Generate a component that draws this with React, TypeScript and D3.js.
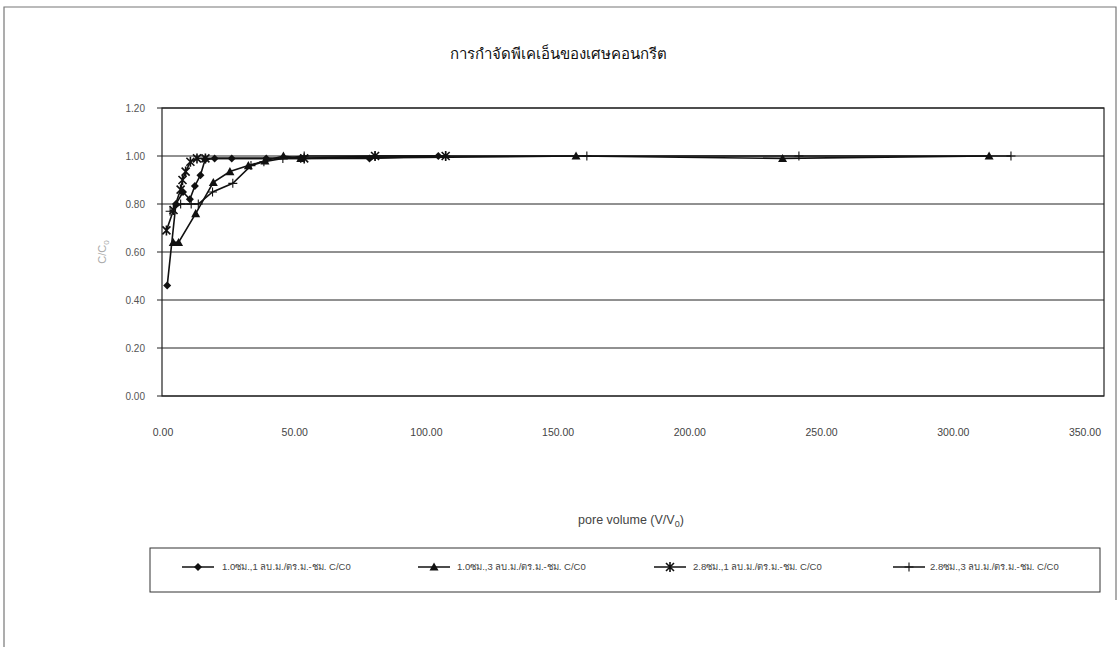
import React from "react";
import * as d3 from "d3";

// C/C0 breakthrough data, x = pore volume (V/V0)
const seriesNames = [
  "1.0ซม.,1 ลบ.ม./ตร.ม.-ชม. C/C0",
  "1.0ซม.,3 ลบ.ม./ตร.ม.-ชม. C/C0",
  "2.8ซม.,1 ลบ.ม./ตร.ม.-ชม. C/C0",
  "2.8ซม.,3 ลบ.ม./ตร.ม.-ชม. C/C0",
];
const markerKinds = ["diamond", "triangle", "star", "plus"];

const s1x = [1.6, 4.9, 7.6, 10.2, 12.1, 14.2, 16.0, 19.6, 26.1, 39.2, 52.3, 78.4, 104.5];
const s1y = [0.46, 0.80, 0.85, 0.82, 0.875, 0.92, 0.985, 0.99, 0.99, 0.99, 0.99, 0.99, 1.0];

const s2x = [3.9, 5.9, 12.4, 19.1, 25.4, 32.4, 38.7, 45.7, 52.3, 156.8, 235.2, 313.6];
const s2y = [0.64, 0.64, 0.76, 0.89, 0.935, 0.96, 0.98, 1.0, 0.99, 1.0, 0.99, 1.0];

const s3x = [1.3, 4.0, 6.7, 7.4, 8.6, 10.4, 12.9, 16.1, 53.6, 80.5, 107.3];
const s3y = [0.69, 0.775, 0.86, 0.90, 0.935, 0.976, 0.99, 0.99, 0.99, 1.0, 1.0];

const s4x = [2.7, 6.7, 10.7, 13.4, 18.8, 26.5, 33.4, 38.3, 45.5, 53.6, 80.5, 107.3, 160.9, 241.4, 321.9];
const s4y = [0.77, 0.80, 0.80, 0.80, 0.85, 0.886, 0.96, 0.976, 0.99, 1.0, 1.0, 1.0, 1.0, 1.0, 1.0];

const seriesX = [s1x, s2x, s3x, s4x];
const seriesY = [s1y, s2y, s3y, s4y];

const xTicks = [0, 50, 100, 150, 200, 250, 300, 350];
const yTicks = [0, 0.2, 0.4, 0.6, 0.8, 1.0, 1.2];

const title = "การกำจัดพีเคเอ็นของเศษคอนกรีต";

const W = 1119;
const H = 647;
const plot = { left: 162, right: 1104, top: 108, bottom: 396 };

const x = d3.scaleLinear().domain([0, 350]).range([163, 1085]);
const y = d3.scaleLinear().domain([0, 1.2]).range([plot.bottom, plot.top]);

const font = "'Liberation Sans', Arial, 'DejaVu Sans', sans-serif";

function Marker({ kind, cx, cy }: { kind: string; cx: number; cy: number }) {
  if (kind === "diamond") {
    const r = 4;
    return (
      <path
        d={`M${cx},${cy - r}L${cx + r},${cy}L${cx},${cy + r}L${cx - r},${cy}Z`}
        fill="#111"
      />
    );
  }
  if (kind === "triangle") {
    const r = 4.5;
    return (
      <path
        d={`M${cx},${cy - r}L${cx + r},${cy + r * 0.8}L${cx - r},${cy + r * 0.8}Z`}
        fill="#111"
      />
    );
  }
  if (kind === "star") {
    const r = 4;
    return (
      <path
        d={`M${cx - r},${cy - r}L${cx + r},${cy + r}M${cx + r},${cy - r}L${cx - r},${cy + r}M${cx},${cy - r - 1}L${cx},${cy + r + 1}`}
        stroke="#111"
        strokeWidth={1.6}
        fill="none"
      />
    );
  }
  const r = 4.5;
  return (
    <path
      d={`M${cx - r},${cy}L${cx + r},${cy}M${cx},${cy - r}L${cx},${cy + r}`}
      stroke="#111"
      strokeWidth={1.1}
      fill="none"
    />
  );
}

export default function App() {
  const line = d3
    .line<[number, number]>()
    .x((d) => x(d[0]))
    .y((d) => y(d[1]));

  const legendItems = [
    { lx: 182, tx: 222 },
    { lx: 418, tx: 457 },
    { lx: 654, tx: 693 },
    { lx: 893, tx: 930 },
  ];
  const legendY = 567;

  return (
    <svg
      width={W}
      height={H}
      style={{ position: "absolute", left: 0, top: 0, background: "#fff" }}
      fontFamily={font}
    >
      {/* outer frame */}
      <path d={`M4,${H}L4,7L1116,7L1116,600`} fill="none" stroke="#777" strokeWidth={1.2} />

      {/* title */}
      <text x={558} y={59} textAnchor="middle" fontSize={15} fill="#111">
        {title}
      </text>

      {/* gridlines */}
      {yTicks.map((t) => (
        <line
          key={`g${t}`}
          x1={plot.left - 5}
          x2={plot.right}
          y1={y(t)}
          y2={y(t)}
          stroke="#222"
          strokeWidth={1}
        />
      ))}
      {/* plot border */}
      <rect
        x={plot.left}
        y={plot.top}
        width={plot.right - plot.left}
        height={plot.bottom - plot.top}
        fill="none"
        stroke="#222"
        strokeWidth={1.2}
      />

      {/* y tick labels */}
      {yTicks.map((t) => (
        <text
          key={`yl${t}`}
          x={145}
          y={y(t) + 3.5}
          textAnchor="end"
          fontSize={10}
          fill="#555"
        >
          {t.toFixed(2)}
        </text>
      ))}
      {/* x tick labels */}
      {xTicks.map((t) => (
        <text
          key={`xl${t}`}
          x={x(t)}
          y={436}
          textAnchor="middle"
          fontSize={10.5}
          fill="#444"
        >
          {t.toFixed(2)}
        </text>
      ))}

      {/* axis titles */}
      <text x={631} y={524} textAnchor="middle" fontSize={12.5} fill="#444">
        pore volume (V/V
        <tspan fontSize={9} dy={3}>0</tspan>
        <tspan dy={-3}>)</tspan>
      </text>
      <text
        transform={`translate(106,${y(0.6)}) rotate(-90)`}
        textAnchor="middle"
        fontSize={11}
        fill="#aaa"
      >
        C/C<tspan fontSize={8} dy={3}>0</tspan>
      </text>

      {/* series */}
      {seriesX.map((xs, i) => {
        const pts = xs.map((v, j) => [v, seriesY[i][j]] as [number, number]);
        return (
          <g key={`s${i}`}>
            <path d={line(pts) || ""} fill="none" stroke="#111" strokeWidth={1.6} />
            {pts.map((p, j) => (
              <Marker key={j} kind={markerKinds[i]} cx={x(p[0])} cy={y(p[1])} />
            ))}
          </g>
        );
      })}

      {/* legend */}
      <rect x={150} y={548} width={950} height={44} fill="none" stroke="#333" strokeWidth={1} />
      {legendItems.map((it, i) => (
        <g key={`lg${i}`}>
          <line x1={it.lx} x2={it.lx + 32} y1={legendY} y2={legendY} stroke="#111" strokeWidth={1.5} />
          <Marker kind={markerKinds[i]} cx={it.lx + 16} cy={legendY} />
          <text x={it.tx} y={legendY + 3} fontSize={9.5} fill="#444">
            {seriesNames[i]}
          </text>
        </g>
      ))}
    </svg>
  );
}
